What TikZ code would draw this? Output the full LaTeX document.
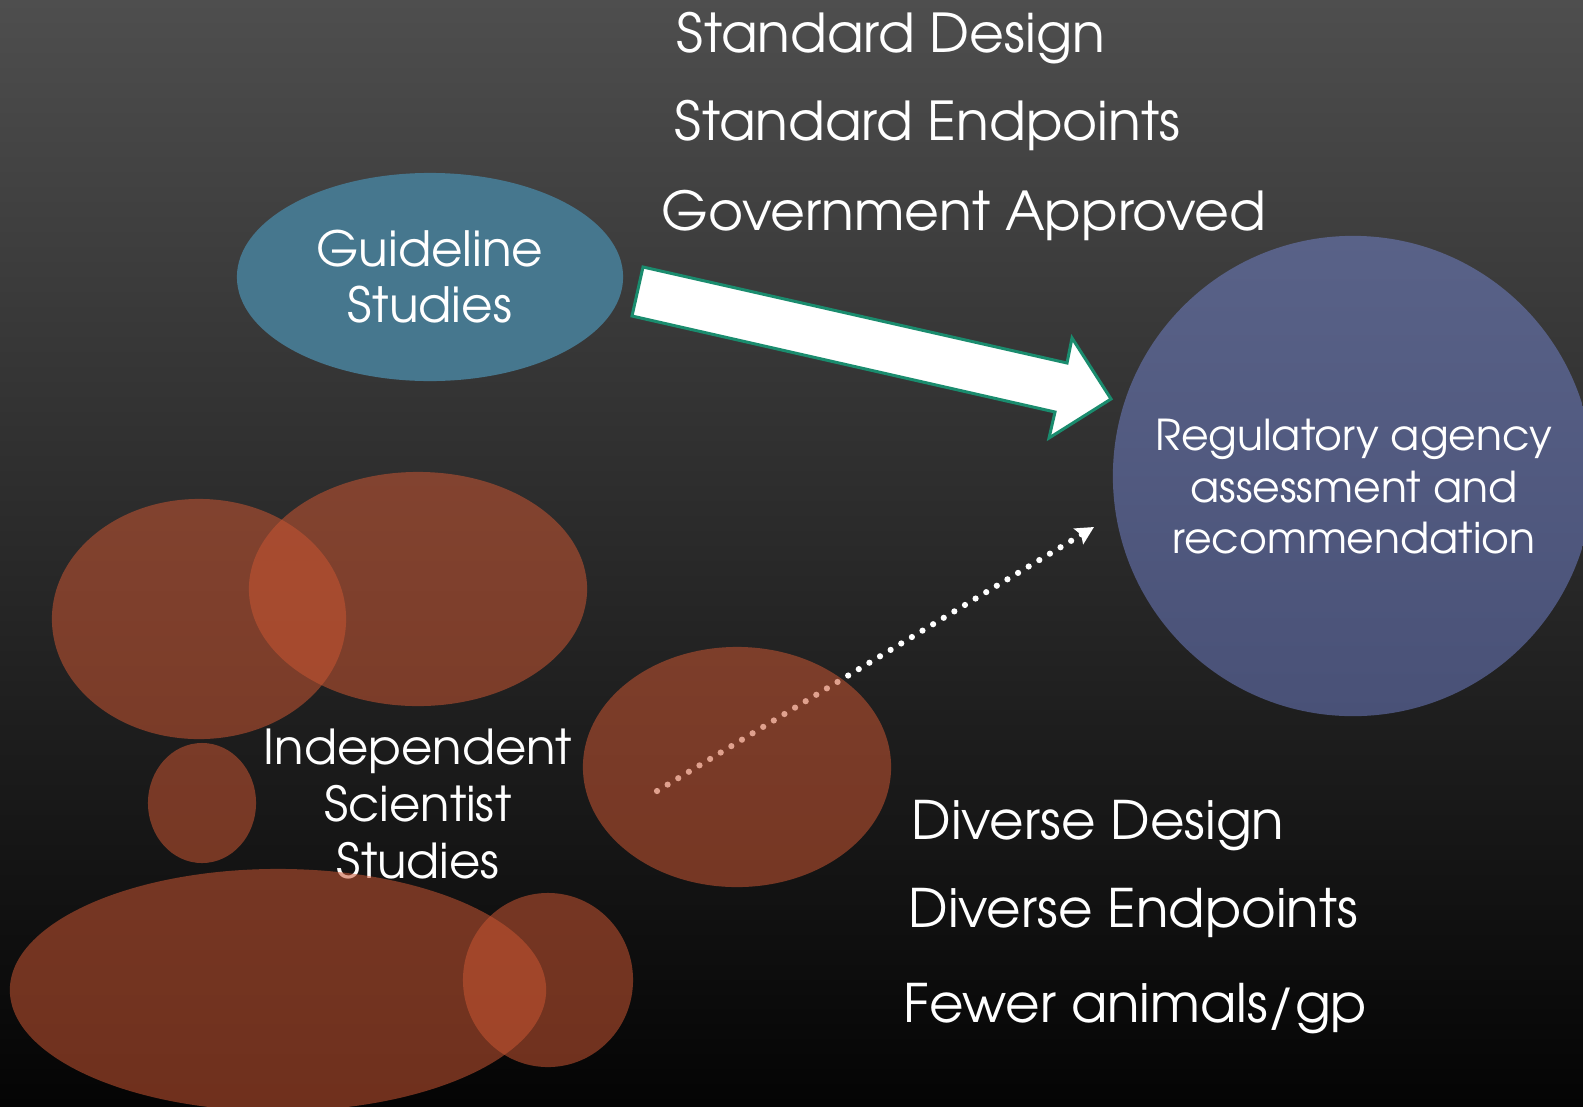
\documentclass[tikz,border=0pt]{standalone}
\usepackage{fontspec}
\setmainfont{TeX Gyre Adventor}
\usetikzlibrary{shapes.geometric,arrows.meta}
\definecolor{bgtop}{RGB}{78,78,78}
\definecolor{bgmid}{RGB}{42,42,42}
\definecolor{bgbot}{RGB}{4,4,4}
\definecolor{guide}{RGB}{70,119,142}
\definecolor{regtop}{RGB}{89,98,136}
\definecolor{regbot}{RGB}{73,81,119}
\definecolor{orng}{RGB}{200,85,50}
\definecolor{arrowgreen}{RGB}{26,140,110}
\tikzset{
  blob/.style={ellipse, fill=orng, fill opacity=0.55, draw=none, inner sep=0pt},
  plain/.style={text=white, inner sep=0pt},
  toptext/.style={plain, anchor=base west, font=\fontsize{15.25pt}{18pt}\selectfont},
  bottext/.style={plain, anchor=base west, font=\fontsize{15.1pt}{18pt}\selectfont},
  blockarrow/.style={fill=white, draw=arrowgreen, line width=0.03cm, line join=miter},
  dotline/.style={white, line width=0.062cm, line cap=round, dash pattern=on 0pt off 0.124cm,
     -{Stealth[length=0.18cm, width=0.18cm, inset=0.03cm]}}
}
\begin{document}
\begin{tikzpicture}[x=0.01cm, y=-0.01cm]
\useasboundingbox (0,0) rectangle (1583,1106);
\clip (0,0) rectangle (1583,1106);
\fill[top color=bgtop, middle color=bgmid, bottom color=bgbot] (0,0) rectangle (1583,1106);

% main shapes
\node[ellipse, fill=guide, minimum width=3.86cm, minimum height=2.08cm, inner sep=0pt,
      align=center, text=white, font=\fontsize{13.8pt}{15.9pt}\selectfont] (guide) at (430,277) {Guideline\\Studies};
\node[circle, minimum size=4.8cm, inner sep=0pt, top color=regtop, bottom color=regbot] (reg) at (1353,476) {};
\node[plain, align=center, font=\fontsize{12.1pt}{14.65pt}\selectfont] (regtxt) at (1354,487) {Regulatory agency\\assessment and\\recommendation};

% top texts
\node[toptext] (sdesign) at (676,52) {Standard Design};
\node[toptext] (sends) at (674,140) {Standard Endpoints};
\node[toptext] (gov) at (661,230) {Government Approved};

% bottom texts
\node[bottext] (ddesign) at (911,839) {Diverse Design};
\node[bottext] (dends) at (908,927) {Diverse Endpoints};
\node[bottext] (fewer) at (903,1022) {Fewer animals/gp};

% independent label
\node[plain, align=center, font=\fontsize{13.7pt}{16.1pt}\selectfont] (indep) at (418,804) {Independent\\Scientist\\Studies};

% block arrow
\coordinate (a1) at (643,267);
\coordinate (a2) at (632,316);
\coordinate (a3) at (1055,412);
\coordinate (a4) at (1049,438);
\coordinate (a5) at (1111,399);
\coordinate (a6) at (1072,338);
\coordinate (a7) at (1067,363);
\draw[blockarrow] (a1) -- (a7) -- (a6) -- (a5) -- (a4) -- (a3) -- (a2) -- cycle;

% dotted arrow
\coordinate (dstart) at (657,791);
\coordinate (dend) at (1094,527);
\draw[dotline] (dstart) -- (dend);

% translucent blobs
\node[blob, minimum width=2.94cm, minimum height=2.40cm] (oa) at (199,619) {};
\node[blob, minimum width=3.38cm, minimum height=2.34cm] (ob) at (418,589) {};
\node[blob, minimum width=1.08cm, minimum height=1.20cm] (oc) at (202,803) {};
\node[blob, minimum width=3.08cm, minimum height=2.40cm] (od) at (737,767) {};
\node[blob, minimum width=5.36cm, minimum height=2.42cm] (oe) at (278,990) {};
\node[blob, minimum width=1.70cm, minimum height=1.74cm] (of) at (548,980) {};
\end{tikzpicture}
\end{document}
